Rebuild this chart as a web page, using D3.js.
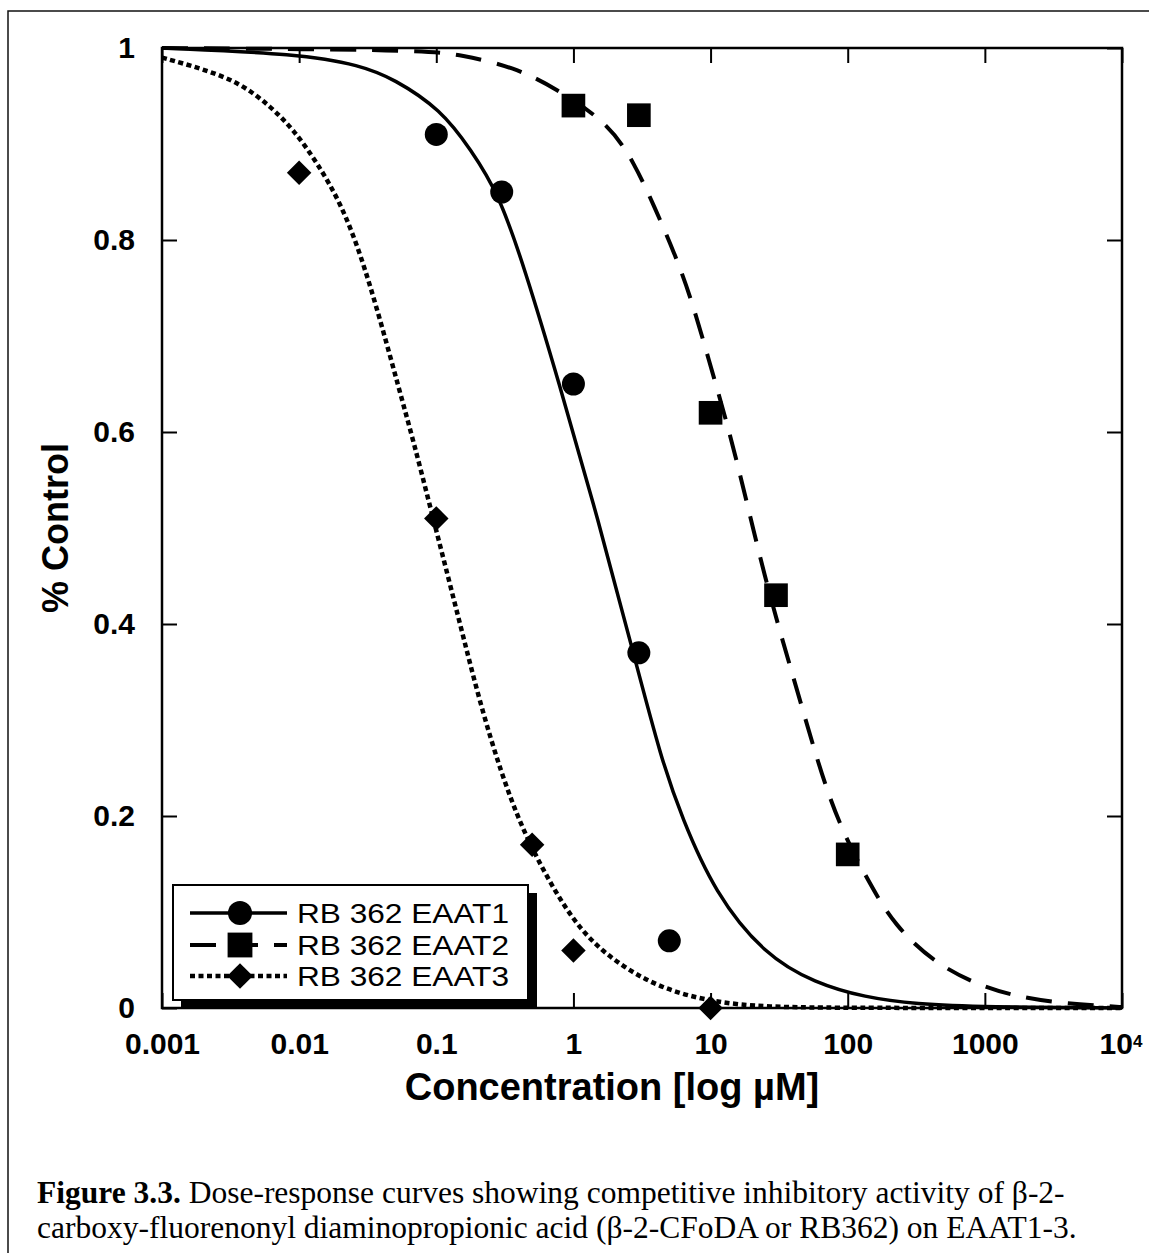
<!DOCTYPE html>
<html>
<head>
<meta charset="utf-8">
<script src="https://cdn.jsdelivr.net/npm/d3@7"></script>
<style>
	body { margin: 0; background: #fff; }
	text { font-family: "Liberation Sans", Arial, Helvetica, sans-serif; fill: #000; }
	.tick text { font-weight: bold; font-size: 30px; }
	.axis-label { font-weight: bold; }
	.legend-text { font-size: 28px; }
	.caption { font-family: "Liberation Serif", "Times New Roman", serif; font-size: 31.5px; }
</style>
</head>
<body>
<svg id="chart" width="1149" height="1253"></svg>
<script>
// ######################### Data ##################################################
// Axis ticks.
const concTicks = [0.001, 0.01, 0.1, 1, 10, 100, 1000, 10000];
const concLabels = ["0.001", "0.01", "0.1", "1", "10", "100", "1000", "10"];
const ctrlTicks = [0, 0.2, 0.4, 0.6, 0.8, 1];
const ctrlLabels = ["0", "0.2", "0.4", "0.6", "0.8", "1"];

// Measured points (concentration in µM, fraction of control).
const eaat1Conc = [0.1, 0.3, 1, 3, 5];
const eaat1Ctrl = [0.91, 0.85, 0.65, 0.37, 0.07];
const eaat2Conc = [1, 3, 10, 30, 100];
const eaat2Ctrl = [0.94, 0.93, 0.62, 0.43, 0.16];
const eaat3Conc = [0.01, 0.1, 0.5, 1, 10];
const eaat3Ctrl = [0.87, 0.51, 0.17, 0.06, 0.0];

// Fitted curves.
const fit1Conc = [0.001, 0.01, 0.028, 0.049, 0.108, 0.179, 0.283, 0.438, 0.776, 1.52, 2.79, 4.4, 6.15, 10.7, 24.9, 57.8, 134, 312, 1000, 10000];
const fit1Ctrl = [1.0, 0.994, 0.982, 0.968, 0.936, 0.894, 0.849, 0.772, 0.654, 0.508, 0.365, 0.258, 0.199, 0.12, 0.055, 0.026, 0.011, 0.004, 0.001, 0.0];
const fit2Conc = [0.001, 0.08, 0.151, 0.37, 0.725, 1.8, 2.79, 3.91, 5.47, 7.28, 10.7, 15, 24.9, 39.3, 57.8, 73.3, 96, 144, 219, 430, 885, 1800, 3700, 7650, 10000];
const fit2Ctrl = [1.0, 0.998, 0.993, 0.98, 0.959, 0.922, 0.88, 0.834, 0.786, 0.738, 0.654, 0.581, 0.446, 0.349, 0.266, 0.22, 0.178, 0.13, 0.086, 0.047, 0.024, 0.011, 0.005, 0.002, 0.001];
const fit3Conc = [0.001, 0.0019, 0.0037, 0.0062, 0.0091, 0.0136, 0.02, 0.028, 0.039, 0.053, 0.0686, 0.0914, 0.122, 0.159, 0.212, 0.297, 0.416, 0.655, 1.14, 2.24, 4.62, 10.7, 25, 100, 10000];
const fit3Ctrl = [0.99, 0.979, 0.964, 0.939, 0.915, 0.88, 0.839, 0.786, 0.717, 0.647, 0.589, 0.519, 0.449, 0.384, 0.314, 0.245, 0.189, 0.133, 0.078, 0.043, 0.019, 0.006, 0.001, 0.0, 0.0];

const seriesNames = ["RB 362 EAAT1", "RB 362 EAAT2", "RB 362 EAAT3"];

// Build series objects.
const zip = (a, b) => a.map((v, i) => ({ conc: v, ctrl: b[i] }));
const series = [
	{ name: seriesNames[0], shape: "circle", dash: null, width: 3.5, points: zip(eaat1Conc, eaat1Ctrl), fit: zip(fit1Conc, fit1Ctrl) },
	{ name: seriesNames[1], shape: "square", dash: "26 16", width: 4, points: zip(eaat2Conc, eaat2Ctrl), fit: zip(fit2Conc, fit2Ctrl) },
	{ name: seriesNames[2], shape: "diamond", dash: "5 3.5", width: 4.5, points: zip(eaat3Conc, eaat3Ctrl), fit: zip(fit3Conc, fit3Ctrl) }
];

// ######################### Drawing ##############################
const svg = d3.select("#chart");
svg.append("rect").attr("width", 1149).attr("height", 1253).attr("fill", "#fff");

// Outer frame of the figure (runs off the right and bottom edge).
svg.append("rect")
	.attr("x", 8).attr("y", 11)
	.attr("width", 1300).attr("height", 1400)
	.attr("fill", "none").attr("stroke", "#111").attr("stroke-width", 1.5);

const x = d3.scaleLog().domain([0.001, 10000]).range([162, 1122]);
const y = d3.scaleLinear().domain([0, 1]).range([1008, 48]);

// Bottom axis with labels, ticks pointing inward.
let xAxis = svg.append("g")
	.attr("transform", "translate(0,1008)")
	.call(d3.axisBottom(x).tickValues(concTicks)
		.tickFormat((d, i) => concLabels[i])
		.tickSize(-15).tickPadding(25));
let lastLabel = xAxis.selectAll(".tick text").filter(d => d === 10000);
lastLabel.attr("dx", "-0.05em");
lastLabel.append("tspan").attr("dy", "-0.45em").style("font-size", "17px").text("4");

// Left axis with labels.
svg.append("g")
	.attr("transform", "translate(162,0)")
	.call(d3.axisLeft(y).tickValues(ctrlTicks)
		.tickFormat((d, i) => ctrlLabels[i])
		.tickSize(-15).tickPadding(27));

// Top and right axes: ticks only.
svg.append("g")
	.attr("transform", "translate(0,48)")
	.call(d3.axisTop(x).tickValues(concTicks).tickFormat("").tickSize(-15));
svg.append("g")
	.attr("transform", "translate(1122,0)")
	.call(d3.axisRight(y).tickValues(ctrlTicks).tickFormat("").tickSize(-15));

svg.selectAll(".domain").remove();
svg.selectAll(".tick line").attr("stroke", "#000").attr("stroke-width", 2);

// Plot box.
svg.append("rect")
	.attr("x", x(0.001)).attr("y", y(1))
	.attr("width", x(10000) - x(0.001)).attr("height", y(0) - y(1))
	.attr("fill", "none").attr("stroke", "#000").attr("stroke-width", 2.5);

// Axis titles.
svg.append("text")
	.attr("class", "axis-label")
	.attr("x", 612).attr("y", 1100)
	.style("font-size", "38px")
	.style("text-anchor", "middle")
	.text("Concentration [log µM]");

svg.append("text")
	.attr("class", "axis-label")
	.attr("transform", "translate(68,528) rotate(-90)")
	.style("font-size", "36px")
	.style("text-anchor", "middle")
	.text("% Control");

// Marker helper.
function marker(shape, scale) {
	if (shape === "circle") return d3.symbol().type(d3.symbolCircle).size(415 * scale)();
	return d3.symbol().type(d3.symbolSquare).size((shape === "square" ? 560 : 300) * scale)();
}
const rot = shape => shape === "diamond" ? " rotate(45)" : "";

// Curves (smoothed through the traced points).
const line = d3.line()
	.x(d => x(d.conc))
	.y(d => y(d.ctrl))
	.curve(d3.curveBasis);

for (let i = 0; i < series.length; i++) {
	let s = series[i];
	svg.append("path")
		.datum(s.fit)
		.attr("fill", "none")
		.attr("stroke", "#000")
		.attr("stroke-width", s.width)
		.attr("stroke-dasharray", s.dash)
		.attr("d", line);
}

// Points.
for (let i = 0; i < series.length; i++) {
	let s = series[i];
	svg.selectAll(".pt" + i)
		.data(s.points)
		.enter().append("path")
		.attr("class", "pt" + i)
		.attr("d", marker(s.shape, 1))
		.attr("transform", d => "translate(" + x(d.conc) + "," + y(d.ctrl) + ")" + rot(s.shape))
		.attr("fill", "#000");
}

// Legend with drop shadow.
let legend = svg.append("g");
legend.append("rect")
	.attr("x", 181).attr("y", 893).attr("width", 356).attr("height", 115)
	.attr("fill", "#000");
legend.append("rect")
	.attr("x", 173).attr("y", 885).attr("width", 355).attr("height", 115)
	.attr("fill", "#fff").attr("stroke", "#000").attr("stroke-width", 2);

const rowY = [913, 945, 976];
for (let i = 0; i < series.length; i++) {
	let s = series[i];
	legend.append("line")
		.attr("x1", 190).attr("x2", 287)
		.attr("y1", rowY[i]).attr("y2", rowY[i])
		.attr("stroke", "#000")
		.attr("stroke-width", s.width)
		.attr("stroke-dasharray", s.dash);
	legend.append("path")
		.attr("d", marker(s.shape, 1.1))
		.attr("transform", "translate(240," + rowY[i] + ")" + rot(s.shape))
		.attr("fill", "#000");
	legend.append("text")
		.attr("class", "legend-text")
		.attr("x", 297).attr("y", rowY[i] + 10)
		.attr("textLength", 212)
		.attr("lengthAdjust", "spacingAndGlyphs")
		.text(s.name);
}

// Caption.
let cap1 = svg.append("text").attr("class", "caption").attr("x", 37).attr("y", 1203);
cap1.append("tspan").style("font-weight", "bold").text("Figure 3.3.");
cap1.append("tspan").text(" Dose-response curves showing competitive inhibitory activity of β-2-");
svg.append("text").attr("class", "caption").attr("x", 37).attr("y", 1238)
	.text("carboxy-fluorenonyl diaminopropionic acid (β-2-CFoDA or RB362) on EAAT1-3.");
</script>
</body>
</html>
